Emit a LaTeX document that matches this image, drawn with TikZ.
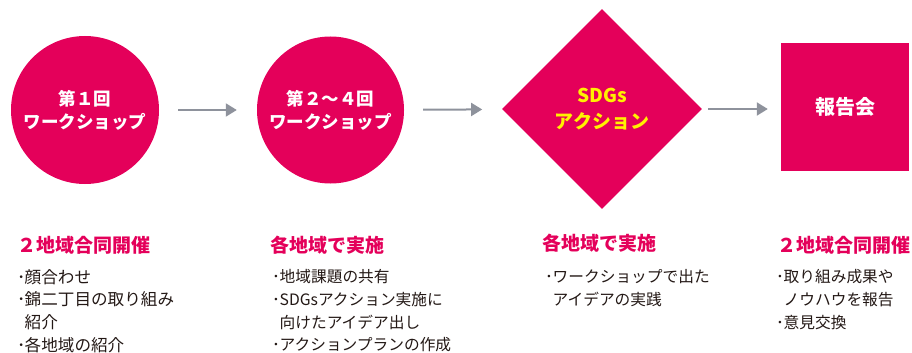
\documentclass[tikz,border=0pt]{standalone}
\usepackage{fontspec}
\setmainfont{Noto Sans CJK JP}
\usepackage{tikz}
\usetikzlibrary{shapes.geometric,arrows.meta}

\definecolor{sdgred}{HTML}{E4005A}
\definecolor{sdgyellow}{HTML}{FFF100}
\definecolor{arrowgray}{HTML}{8E929C}
\definecolor{bodytext}{HTML}{231815}

\newcommand{\bul}{\makebox[7.5pt][l]{･}}
\newcommand{\ind}{\hspace*{7.5pt}}

\begin{document}
\begin{tikzpicture}[x=1pt,y=-1pt,
  stage/.style={fill=sdgred,text=white,align=center,inner sep=0pt,
    font=\bfseries\fontsize{17.5}{23}\selectfont},
  flow/.style={draw=arrowgray,line width=2pt,-{Triangle[length=11pt,width=13pt]}},
  head/.style={anchor=west,inner sep=0pt,text=sdgred,
    font=\bfseries\fontsize{19}{22}\selectfont},
  items/.style={anchor=north west,align=left,inner sep=0pt,text=bodytext,
    font=\fontsize{15.7}{22.7}\selectfont}]
  \useasboundingbox (0,0) rectangle (912,353);
  % the four stages
  \node[stage,circle,minimum size=148pt] (ws1) at (85,110) {第１回\\ワークショップ};
  \node[stage,circle,minimum size=147pt] (ws2) at (330.5,110) {第２～４回\\ワークショップ};
  \node[stage,diamond,minimum width=200pt,minimum height=200pt,text=sdgyellow,
    font=\bfseries\fontsize{19}{26}\selectfont] (act) at (602,109) {SDGs\\アクション};
  \node[stage,minimum size=128pt,font=\bfseries\fontsize{20}{24}\selectfont] (rep) at (845,107) {報告会};
  % arrows
  \draw[flow,shorten <=19pt,shorten >=20pt] (ws1) -- (ws2);
  \draw[flow,shorten <=19pt,shorten >=20pt] (ws2) -- (act);
  \draw[flow,shorten <=6pt,shorten >=13pt] (act.east) -- (act.east -| rep.west);
  % headings
  \node[head] (h1) at (17,245) {２地域合同開催};
  \node[head] (h2) at (270,245) {各地域で実施};
  \node[head] (h3) at (542,243) {各地域で実施};
  \node[head] (h4) at (777,245) {２地域合同開催};
  % lists
  \node[items,font=\fontsize{16.6}{22.7}\selectfont] (l1) at (17,269) {\bul 顔合わせ\\\bul 錦二丁目の取り組み\\\ind 紹介\\\bul 各地域の紹介};
  \node[items] (l2) at (272,269.5) {\bul 地域課題の共有\\\bul SDGsアクション実施に\\\ind 向けたアイデア出し\\\bul アクションプランの作成};
  \node[items] (l3) at (545,269.5) {\bul ワークショップで出た\\\ind アイデアの実践};
  \node[items] (l4) at (776,269.5) {\bul 取り組み成果や\\\ind ノウハウを報告\\\bul 意見交換};
\end{tikzpicture}
\end{document}
